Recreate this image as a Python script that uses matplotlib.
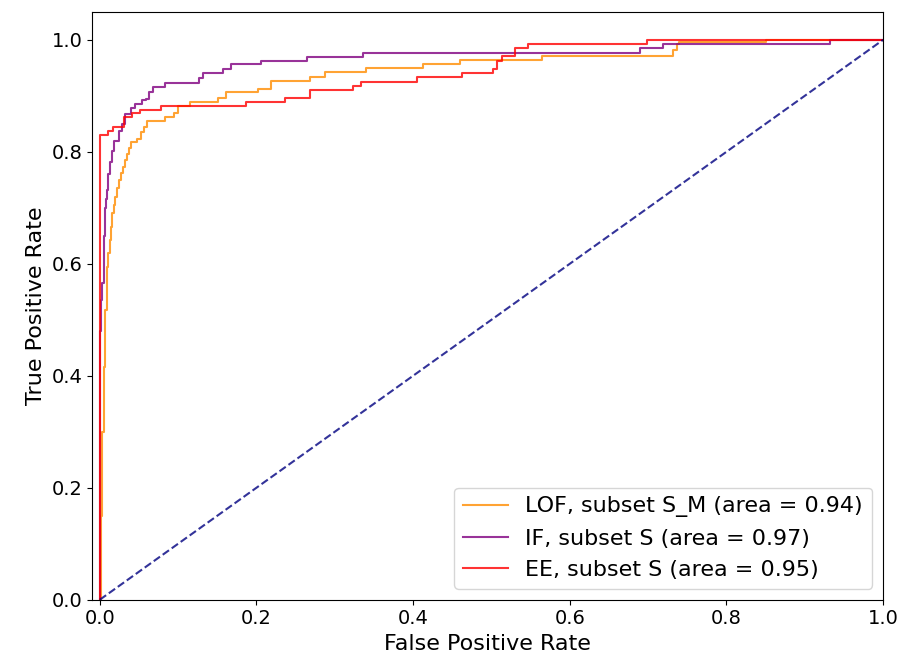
import matplotlib
matplotlib.use("Agg")
import matplotlib.pyplot as plt

# ROC step points (fpr, tpr)
lof_fpr = [0, 0.001, 0.0026, 0.0047, 0.0068, 0.009, 0.011, 0.013, 0.0145, 0.016, 0.018,
           0.0196, 0.022, 0.024, 0.027, 0.029, 0.032, 0.0345, 0.037, 0.040, 0.047, 0.053,
           0.056, 0.060, 0.083, 0.095, 0.0996, 0.1145, 0.151, 0.161, 0.202,
           0.219, 0.268, 0.287, 0.340, 0.413, 0.460, 0.564, 0.732, 0.737, 0.740, 0.851, 1.0]
lof_tpr = [0, 0.15, 0.30, 0.416, 0.517, 0.594, 0.62, 0.642, 0.665, 0.69, 0.705,
           0.719, 0.735, 0.749, 0.762, 0.772, 0.785, 0.796, 0.806, 0.817, 0.823, 0.835,
           0.845, 0.855, 0.862, 0.870, 0.882, 0.889, 0.897, 0.906, 0.912,
           0.927, 0.934, 0.942, 0.949, 0.957, 0.964, 0.971, 0.982, 0.992, 0.996, 1.0, 1.0]

if_fpr = [0, 0.0008, 0.0017, 0.003, 0.0047, 0.0058, 0.0068, 0.008, 0.009, 0.011, 0.013,
          0.0153, 0.0187, 0.024, 0.028, 0.032, 0.040, 0.045, 0.054, 0.059, 0.063, 0.068,
          0.083, 0.127, 0.1315, 0.157, 0.168, 0.206, 0.264, 0.3355, 0.690, 0.7195, 0.932, 1.0]
if_tpr = [0, 0.48, 0.535, 0.565, 0.594, 0.65, 0.70, 0.715, 0.731, 0.761, 0.782,
          0.802, 0.82, 0.838, 0.85, 0.868, 0.879, 0.886, 0.893, 0.895, 0.906, 0.915,
          0.923, 0.932, 0.941, 0.948, 0.957, 0.963, 0.970, 0.977, 0.985, 0.992, 1.0, 1.0]

ee_fpr = [0, 0.0004, 0.011, 0.0166, 0.031, 0.041, 0.051, 0.078, 0.187, 0.237, 0.268,
          0.323, 0.333, 0.405, 0.462, 0.502, 0.507, 0.513, 0.530, 0.547, 0.698, 1.0]
ee_tpr = [0, 0.83, 0.838, 0.845, 0.862, 0.869, 0.875, 0.882, 0.889, 0.896, 0.910,
          0.918, 0.925, 0.933, 0.940, 0.948, 0.963, 0.971, 0.985, 0.992, 1.0, 1.0]

labels = ["LOF, subset S_M (area = 0.94)",
          "IF, subset S (area = 0.97)",
          "EE, subset S (area = 0.95)"]

plt.rcParams["font.size"] = 14

fig = plt.figure(figsize=(9.02, 6.59), dpi=100)
fig.subplots_adjust(left=0.102, right=0.979, top=0.982, bottom=0.09)

plt.plot(lof_fpr, lof_tpr, color="darkorange", lw=1.5, alpha=0.8,
         drawstyle="steps-post", label=labels[0])
plt.plot(if_fpr, if_tpr, color="purple", lw=1.5, alpha=0.8,
         drawstyle="steps-post", label=labels[1])
plt.plot(ee_fpr, ee_tpr, color="red", lw=1.5, alpha=0.8,
         drawstyle="steps-post", label=labels[2])
plt.plot([0, 1], [0, 1], color="navy", lw=1.5, linestyle="--", alpha=0.8)

plt.xlim([-0.01, 1.0])
plt.ylim([0.0, 1.05])
plt.xlabel("False Positive Rate", fontsize=16)
plt.ylabel("True Positive Rate", fontsize=16)
plt.legend(loc="lower right", fontsize=16)

plt.savefig("out.png")
